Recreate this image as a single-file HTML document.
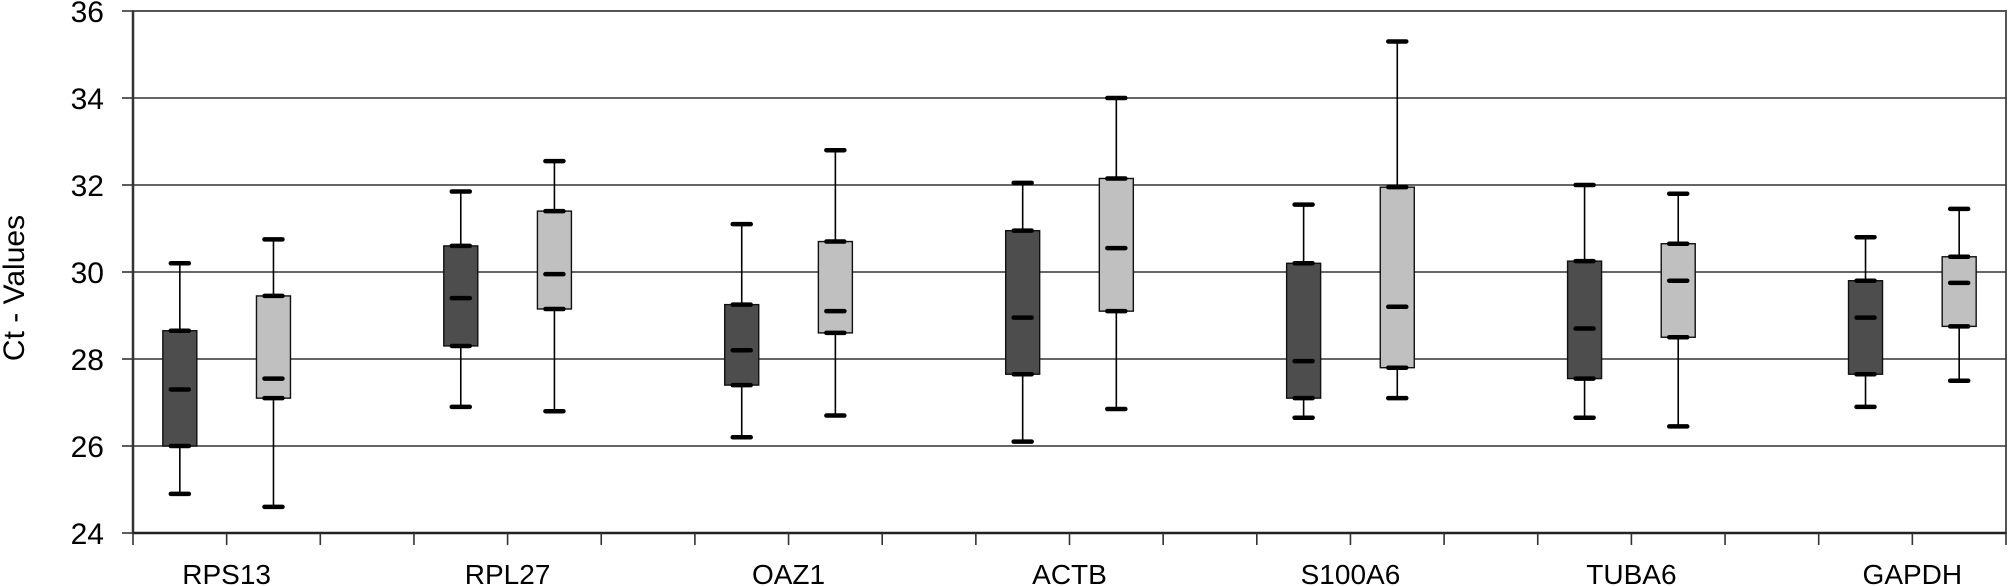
<!DOCTYPE html>
<html><head><meta charset="utf-8"><style>
html,body{margin:0;padding:0;background:#fff;}
svg{display:block;font-family:"Liberation Sans",Arial,sans-serif;}
</style></head><body>
<svg id="chart" width="2008" height="586" viewBox="0 0 2008 586"></svg>
<script>
const categories=["RPS13","RPL27","OAZ1","ACTB","S100A6","TUBA6","GAPDH"];
const darkMin=[24.9,26.9,26.2,26.1,26.65,26.65,26.9];
const darkQ1=[26.0,28.3,27.4,27.65,27.1,27.55,27.65];
const darkMed=[27.3,29.4,28.2,28.95,27.95,28.7,28.95];
const darkQ3=[28.65,30.6,29.25,30.95,30.2,30.25,29.8];
const darkMax=[30.2,31.85,31.1,32.05,31.55,32.0,30.8];
const lightMin=[24.6,26.8,26.7,26.85,27.1,26.45,27.5];
const lightQ1=[27.1,29.15,28.6,29.1,27.8,28.5,28.75];
const lightMed=[27.55,29.95,29.1,30.55,29.2,29.8,29.75];
const lightQ3=[29.45,31.4,30.7,32.15,31.95,30.65,30.35];
const lightMax=[30.75,32.55,32.8,34.0,35.3,31.8,31.45];
const yTicks=[24,26,28,30,32,34,36];

const NS="http://www.w3.org/2000/svg";
const svg=document.getElementById('chart');
const L=133,R=2006,T=11,B=533;
const unit=(R-L)/20;
function y(v){return B-(v-24)*(B-T)/12;}
function xu(u){return L+u*unit;}
function mk(tag,attrs,parent){const e=document.createElementNS(NS,tag);for(const k in attrs)e.setAttribute(k,attrs[k]);(parent||svg).appendChild(e);return e;}

let fr=mk('rect',{x:L,y:T,width:R-L,height:B-T,fill:'none',stroke:'#555','stroke-width':2});


yTicks.forEach(v=>{
  if(v>24&&v<36){let g=mk('line',{x1:L,x2:R,y1:y(v),y2:y(v),stroke:'#333','stroke-width':1.6});
  
  }
  let t=mk('line',{x1:L-11,x2:L,y1:y(v),y2:y(v),stroke:'#333','stroke-width':1.6});
  
  
  let lb=mk('text',{x:104,y:y(v)+11,'text-anchor':'end','font-size':30,fill:'#000'});
  lb.textContent=v;
  
  
});
let ya=mk('line',{x1:L,x2:L,y1:T,y2:B,stroke:'#333','stroke-width':2.5});


let xa=mk('line',{x1:L,x2:R,y1:B,y2:B,stroke:'#222','stroke-width':2.5});


for(let i=0;i<=20;i++){
  let t=mk('line',{x1:xu(i),x2:xu(i),y1:B,y2:B+12,stroke:'#333','stroke-width':1.6});
  
  
}
let yt=mk('text',{x:0,y:0,transform:'translate(24,288) rotate(-90)','text-anchor':'middle','font-size':30,fill:'#000'});
yt.textContent='Ct - Values';



function box(cx,mn,q1,md,q3,mx,fill,name){
  const g=mk('g',{});
  
  
  mk('line',{x1:cx,x2:cx,y1:y(mx),y2:y(mn),stroke:'#000','stroke-width':1.6},g);
  mk('rect',{x:cx-17,y:y(q3),width:34,height:y(q1)-y(q3),fill:fill,stroke:'#111','stroke-width':1.4},g);
  [mn,q1,md,q3,mx].forEach(v=>{
    mk('line',{x1:cx-9,x2:cx+9,y1:y(v),y2:y(v),stroke:'#000','stroke-width':4.5,'stroke-linecap':'round'},g);
  });
}
categories.forEach((c,i)=>{
  box(xu(3*i+0.5),darkMin[i],darkQ1[i],darkMed[i],darkQ3[i],darkMax[i],'#4d4d4d','box-dark-'+c.toLowerCase());
  box(xu(3*i+1.5),lightMin[i],lightQ1[i],lightMed[i],lightQ3[i],lightMax[i],'#c0c0c0','box-light-'+c.toLowerCase());
  let lb=mk('text',{x:xu(3*i+1),y:584,'text-anchor':'middle','font-size':28,fill:'#000'});
  lb.textContent=c;
  
  
});
</script>
</body></html>
